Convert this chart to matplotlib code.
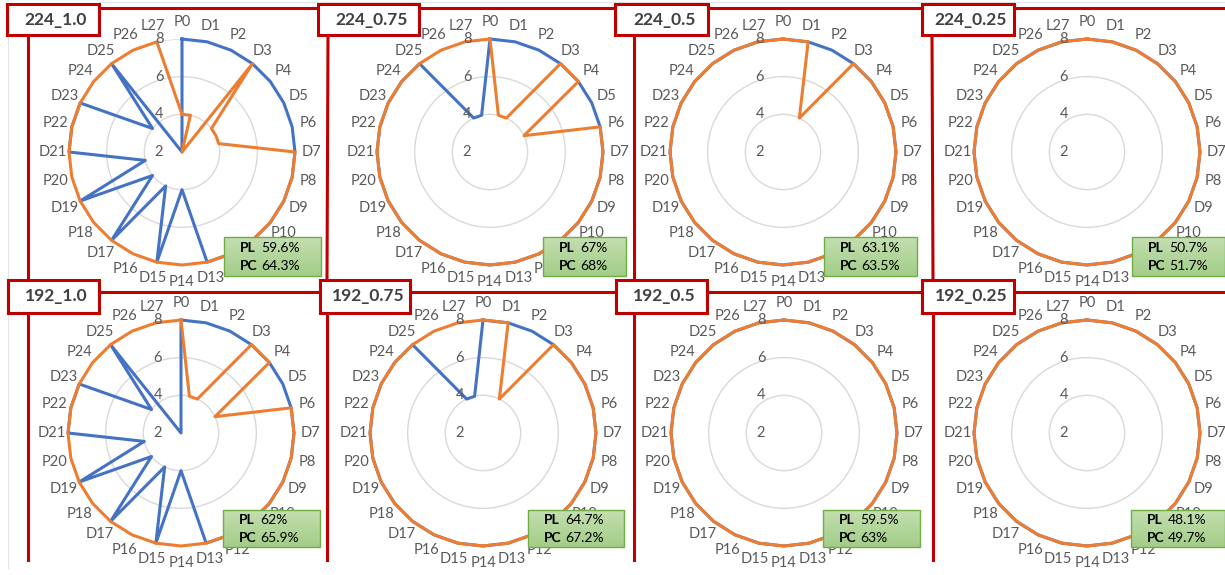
"""Radar plots of per-layer bit widths for the eight input size / width multiplier runs."""

import matplotlib.pyplot as plt
import numpy as np
from matplotlib.colors import LinearSegmentedColormap
from matplotlib.lines import Line2D
from matplotlib.patches import Rectangle

plt.rcParams["font.family"] = ["Lato", "DejaVu Sans"]

LAYERS = [
    "P0", "D1", "P2", "D3", "P4", "D5", "P6", "D7", "P8", "D9",
    "P10", "D11", "P12", "D13", "P14", "D15", "P16", "D17", "P18", "D19",
    "P20", "D21", "P22", "D23", "P24", "D25", "P26", "L27",
]

RUNS = ["224_1.0", "224_0.75", "224_0.5", "224_0.25", "192_1.0", "192_0.75", "192_0.5", "192_0.25"]

# bit width per layer, blue series then orange series for each run
blue_224_10 = [8, 8, 8, 8, 8, 8, 8, 8, 8, 8, 8, 8, 8, 8, 4, 8, 4, 8, 4, 8, 4, 8, 8, 8, 4, 8, 2, 2]
orange_224_10 = [4, 4, 2, 8, 4, 4, 4, 8, 8, 8, 8, 8, 8, 8, 8, 8, 8, 8, 8, 8, 8, 8, 8, 8, 8, 8, 8, 8]
blue_224_075 = [8, 8, 8, 8, 8, 8, 8, 8, 8, 8, 8, 8, 8, 8, 8, 8, 8, 8, 8, 8, 8, 8, 8, 8, 8, 8, 4, 4]
orange_224_075 = [8, 4, 4, 8, 8, 4, 8, 8, 8, 8, 8, 8, 8, 8, 8, 8, 8, 8, 8, 8, 8, 8, 8, 8, 8, 8, 8, 8]
blue_224_05 = [8, 8, 8, 8, 8, 8, 8, 8, 8, 8, 8, 8, 8, 8, 8, 8, 8, 8, 8, 8, 8, 8, 8, 8, 8, 8, 8, 8]
orange_224_05 = [8, 8, 4, 8, 8, 8, 8, 8, 8, 8, 8, 8, 8, 8, 8, 8, 8, 8, 8, 8, 8, 8, 8, 8, 8, 8, 8, 8]
blue_224_025 = [8, 8, 8, 8, 8, 8, 8, 8, 8, 8, 8, 8, 8, 8, 8, 8, 8, 8, 8, 8, 8, 8, 8, 8, 8, 8, 8, 8]
orange_224_025 = [8, 8, 8, 8, 8, 8, 8, 8, 8, 8, 8, 8, 8, 8, 8, 8, 8, 8, 8, 8, 8, 8, 8, 8, 8, 8, 8, 8]
blue_192_10 = [8, 8, 8, 8, 8, 8, 8, 8, 8, 8, 8, 8, 8, 8, 4, 8, 4, 8, 4, 8, 4, 8, 8, 8, 4, 8, 2, 2]
orange_192_10 = [8, 4, 4, 8, 8, 4, 8, 8, 8, 8, 8, 8, 8, 8, 8, 8, 8, 8, 8, 8, 8, 8, 8, 8, 8, 8, 8, 8]
blue_192_075 = [8, 8, 8, 8, 8, 8, 8, 8, 8, 8, 8, 8, 8, 8, 8, 8, 8, 8, 8, 8, 8, 8, 8, 8, 8, 8, 4, 4]
orange_192_075 = [8, 8, 4, 8, 8, 8, 8, 8, 8, 8, 8, 8, 8, 8, 8, 8, 8, 8, 8, 8, 8, 8, 8, 8, 8, 8, 8, 8]
blue_192_05 = [8, 8, 8, 8, 8, 8, 8, 8, 8, 8, 8, 8, 8, 8, 8, 8, 8, 8, 8, 8, 8, 8, 8, 8, 8, 8, 8, 8]
orange_192_05 = [8, 8, 8, 8, 8, 8, 8, 8, 8, 8, 8, 8, 8, 8, 8, 8, 8, 8, 8, 8, 8, 8, 8, 8, 8, 8, 8, 8]
blue_192_025 = [8, 8, 8, 8, 8, 8, 8, 8, 8, 8, 8, 8, 8, 8, 8, 8, 8, 8, 8, 8, 8, 8, 8, 8, 8, 8, 8, 8]
orange_192_025 = [8, 8, 8, 8, 8, 8, 8, 8, 8, 8, 8, 8, 8, 8, 8, 8, 8, 8, 8, 8, 8, 8, 8, 8, 8, 8, 8, 8]

BLUE = [blue_224_10, blue_224_075, blue_224_05, blue_224_025,
        blue_192_10, blue_192_075, blue_192_05, blue_192_025]
ORANGE = [orange_224_10, orange_224_075, orange_224_05, orange_224_025,
          orange_192_10, orange_192_075, orange_192_05, orange_192_025]

PL_ACC = [59.6, 67, 63.1, 50.7, 62, 64.7, 59.5, 48.1]
PC_ACC = [64.3, 68, 63.5, 51.7, 65.9, 67.2, 63, 49.7]

RADIAL_TICKS = [2, 4, 6, 8]

# layout, in pixels from the top-left corner
W, H = 1225, 575
RADIUS = 113
CENTERS = [(182, 152), (490, 152), (783, 152), (1087, 152),
           (181, 433), (483, 433), (784, 433), (1087, 433)]
TITLE_BOXES = [(7, 4, 99, 35), (318, 4, 419, 35), (615, 4, 708, 35), (922, 4, 1014, 35),
               (8, 280, 99, 313), (320, 280, 410, 313), (616, 280, 707, 313), (922, 280, 1014, 313)]
NOTE_BOXES = [(224, 237, 321, 276), (543, 237, 626, 276), (824, 237, 917, 276), (1132, 237, 1225, 276),
              (223, 510, 320, 547), (528, 510, 624, 547), (823, 510, 920, 547), (1131, 510, 1225, 547)]
FRAME_X = [(28, 28, 28), (328, 327, 327), (634, 634, 634), (932, 933, 933)]

BLUE_C = "#4472C4"
ORANGE_C = "#ED7D31"
RED = "#C00000"
LABEL_C = "#595959"


def fx(x):
    return x / W


def fy(y):
    return 1 - y / H


def draw_radar(fig, center, blue, orange):
    cx, cy = center
    ax = fig.add_axes([fx(cx - RADIUS), fy(cy + RADIUS), 2 * RADIUS / W, 2 * RADIUS / H],
                      projection="polar")
    ax.set_theta_zero_location("N")
    ax.set_theta_direction(-1)
    ax.set_facecolor("none")

    theta = np.linspace(0, 2 * np.pi, len(LAYERS), endpoint=False)
    closed = np.append(theta, theta[0])
    for values, color in ((blue, BLUE_C), (orange, ORANGE_C)):
        ax.plot(closed, values + values[:1], color=color, lw=2.2,
                clip_on=False, solid_joinstyle="round")

    ax.set_ylim(2, 8)
    ax.set_yticks(RADIAL_TICKS[1:])
    ax.set_yticklabels([])
    ax.yaxis.grid(True, color="#d9d9d9", lw=1)
    ax.xaxis.grid(False)
    ax.spines["polar"].set_visible(False)
    ax.set_xticks(theta, LAYERS)
    ax.tick_params(axis="x", pad=5, labelsize=10.5, labelcolor=LABEL_C, length=0)
    ax.tick_params(axis="y", length=0)

    for v in RADIAL_TICKS:
        ax.annotate(str(v), xy=(0, v), xytext=(-23, 0), textcoords="offset pixels",
                    ha="center", va="center", fontsize=10.5, color=LABEL_C,
                    annotation_clip=False)


def draw_note(fig, box, pl, pc):
    x0, y0, x1, y1 = box
    bax = fig.add_axes([fx(x0), fy(y1), (x1 - x0) / W, (y1 - y0) / H])
    cmap = LinearSegmentedColormap.from_list("note", ["#c3dfb0", "#a3cd88"])
    bax.imshow(np.linspace(0, 1, 40).reshape(-1, 1), cmap=cmap, aspect="auto",
               extent=(0, 1, 0, 1), origin="upper")
    bax.set_xlim(0, 1)
    bax.set_ylim(0, 1)
    bax.axis("off")
    bax.add_patch(Rectangle((0, 0), 1, 1, transform=bax.transAxes, fill=False,
                            ec="#70ad47", lw=1, clip_on=False))
    for dy, key, val in ((9, "PL", pl), (-9, "PC", pc)):
        bax.annotate(key, xy=(0, 0.5), xycoords="axes fraction", xytext=(16, dy),
                     textcoords="offset pixels", ha="left", va="center",
                     fontsize=10, fontweight="bold", color="black")
        bax.annotate(f"{val:g}%", xy=(0, 0.5), xycoords="axes fraction", xytext=(37, dy),
                     textcoords="offset pixels", ha="left", va="center",
                     fontsize=10, color="black")


def draw_frames(fig):
    fig.add_artist(Line2D([fx(7.5), fx(7.5)], [fy(36), fy(568)], color="#e3e3e3", lw=0.8))
    fig.add_artist(Line2D([fx(99), fx(W)], [fy(1.5), fy(1.5)], color="#e3e3e3", lw=0.8))
    for y in (7.5, 291.5):
        fig.add_artist(Line2D([fx(99), fx(W)], [fy(y), fy(y)], color=RED, lw=2.2))
    for x_top, x_mid, x_bot in FRAME_X:
        fig.add_artist(Line2D([fx(x_top), fx(x_mid)], [fy(35), fy(280)], color=RED, lw=2.2))
        fig.add_artist(Line2D([fx(x_bot), fx(x_bot)], [fy(313), fy(560)], color=RED, lw=2.2))
    for (x0, y0, x1, y1), run in zip(TITLE_BOXES, RUNS):
        fig.add_artist(Rectangle((fx(x0), fy(y1)), (x1 - x0) / W, (y1 - y0) / H,
                                 fc="white", ec=RED, lw=2.2, zorder=3))
        fig.text(fx((x0 + x1) / 2 + 3), fy((y0 + y1) / 2), run, ha="center", va="center",
                 fontsize=12.5, fontweight="bold", color="#404040", zorder=4)


def main():
    fig = plt.figure(figsize=(W / 100, H / 100), dpi=100)
    for i in range(len(RUNS)):
        draw_radar(fig, CENTERS[i], BLUE[i], ORANGE[i])
    for i in range(len(RUNS)):
        draw_note(fig, NOTE_BOXES[i], PL_ACC[i], PC_ACC[i])
    draw_frames(fig)
    fig.savefig("out.png", dpi=100)
    plt.close(fig)


if __name__ == "__main__":
    main()
